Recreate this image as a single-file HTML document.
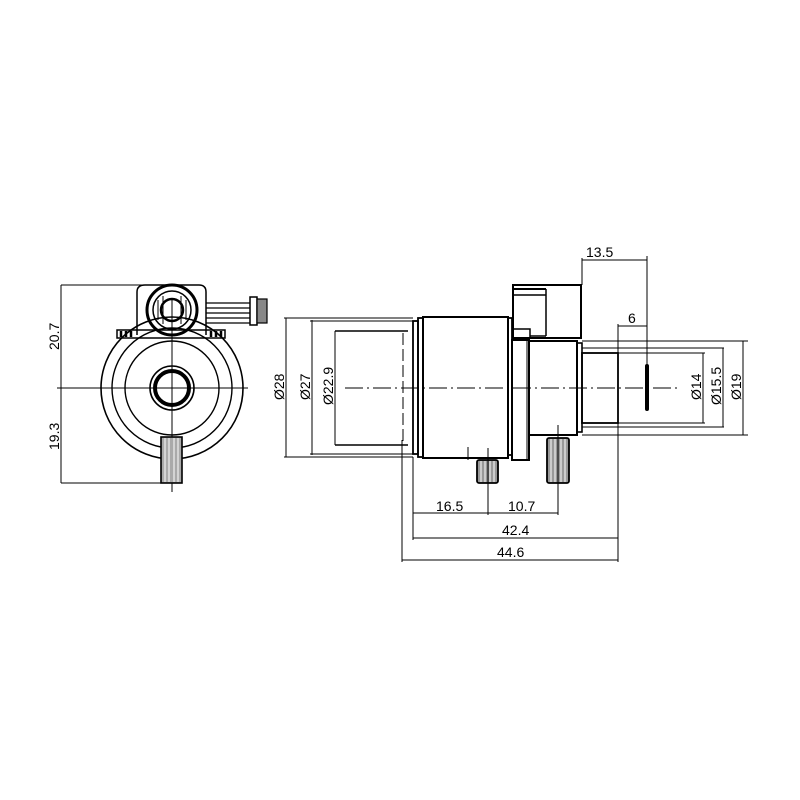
<!DOCTYPE html>
<html><head><meta charset="utf-8"><style>html,body{margin:0;padding:0;background:#fff}svg{display:block}</style></head>
<body>
<svg width="800" height="800" viewBox="0 0 800 800" xmlns="http://www.w3.org/2000/svg" font-family="Liberation Sans Narrow, Liberation Sans, sans-serif" font-size="13">
<g fill="none" stroke="#000" stroke-width="1">
<!-- LEFT VIEW -->
<line x1="61" y1="285" x2="61" y2="483"/>
<line x1="61" y1="285" x2="145" y2="285"/>
<line x1="61" y1="483" x2="165" y2="483"/>
<line x1="57" y1="388" x2="248" y2="388"/>
<line x1="172" y1="300" x2="172" y2="492"/>
<circle cx="172" cy="388" r="71" stroke-width="1.6"/>
<circle cx="172" cy="388" r="60" stroke-width="1.4"/>
<circle cx="172" cy="388" r="47" stroke-width="1.4"/>
<circle cx="172" cy="388" r="22" stroke-width="1.6"/>
<circle cx="172" cy="388" r="17" stroke-width="4"/>
<rect x="117" y="330" width="108" height="8" stroke-width="1.5"/>
<g stroke-width="2.5"><line x1="121" y1="331" x2="121" y2="337"/><line x1="126" y1="331" x2="126" y2="337"/><line x1="131" y1="331" x2="131" y2="337"/><line x1="211" y1="331" x2="211" y2="337"/><line x1="216" y1="331" x2="216" y2="337"/><line x1="221" y1="331" x2="221" y2="337"/></g>
<path d="M137 335 V292 Q137 285 145 285 H199 Q206 285 206 292 V335" stroke-width="1.5"/>
<circle cx="172" cy="310" r="25" stroke-width="3"/>
<circle cx="172" cy="310" r="19" stroke-width="1.5"/>
<circle cx="172" cy="310" r="11" stroke-width="2.5"/>
<path d="M158 300 v20 M186 300 v20 M163 296 v28 M181 296 v28" stroke-width="1"/>
<g stroke-width="1.2"><line x1="206" y1="303" x2="250" y2="303"/><line x1="206" y1="308" x2="250" y2="308"/><line x1="206" y1="313" x2="250" y2="313"/><line x1="206" y1="318" x2="250" y2="318"/><line x1="206" y1="323" x2="250" y2="323"/></g>
<rect x="250" y="297" width="7" height="28" stroke-width="1.5"/>
<rect x="257" y="299" width="10" height="24" fill="#888" stroke-width="1.2"/>
<rect x="161" y="437" width="21" height="46" fill="#aaa" stroke-width="1.6"/>
<path d="M165 438 v44 M169 438 v44 M174 438 v44 M178 438 v44" stroke="#fff" stroke-width="1"/>

<!-- RIGHT VIEW -->
<!-- diameter dims left -->
<line x1="286" y1="318" x2="286" y2="457"/>
<line x1="312" y1="320" x2="312" y2="455"/>
<line x1="335" y1="331" x2="335" y2="445"/>
<line x1="284" y1="318" x2="413" y2="318"/>
<line x1="284" y1="457" x2="413" y2="457"/>
<line x1="310" y1="321" x2="413" y2="321"/>
<line x1="310" y1="454" x2="413" y2="454"/>
<line x1="335" y1="331" x2="408" y2="331" stroke-width="1.5"/>
<line x1="335" y1="445" x2="408" y2="445" stroke-width="1.5"/>
<line x1="403" y1="333" x2="403" y2="443" stroke-dasharray="12 4"/>
<!-- flange rings -->
<rect x="413" y="321" width="5" height="133" stroke-width="1.8"/>
<rect x="418" y="318" width="5" height="139" stroke-width="1.8"/>
<!-- main body -->
<rect x="423" y="317" width="85" height="141" stroke-width="2"/>
<rect x="508" y="318" width="4" height="137" stroke-width="1.8"/>
<rect x="512" y="340" width="17" height="120" stroke-width="2"/>
<line x1="527" y1="340" x2="527" y2="460" stroke-width="1"/>
<!-- connector box -->
<rect x="513" y="285" width="68" height="53" stroke-width="2"/>
<line x1="513" y1="289" x2="546" y2="289" stroke-width="2"/>
<line x1="513" y1="295" x2="546" y2="295" stroke-width="1.5"/>
<line x1="546" y1="289" x2="546" y2="336" stroke-width="1.5"/>
<line x1="530" y1="336" x2="546" y2="336" stroke-width="1.5"/>
<rect x="513" y="329" width="17" height="9" stroke-width="1.5"/>
<!-- next section -->
<rect x="529" y="341" width="48" height="94" stroke-width="2"/>
<rect x="577" y="343" width="5" height="89" stroke-width="1.6"/>
<!-- shaft -->
<rect x="582" y="353" width="36" height="70" stroke-width="1.8"/>
<line x1="582" y1="341" x2="748" y2="341"/>
<line x1="582" y1="435" x2="748" y2="435"/>
<line x1="582" y1="348" x2="724" y2="348"/>
<line x1="582" y1="427" x2="724" y2="427"/>
<line x1="618" y1="353" x2="705" y2="353"/>
<line x1="618" y1="423" x2="705" y2="423"/>
<line x1="703" y1="353" x2="703" y2="423"/>
<line x1="723" y1="348" x2="723" y2="427"/>
<line x1="743" y1="341" x2="743" y2="435"/>
<line x1="647" y1="366" x2="647" y2="409" stroke-width="4" stroke-linecap="round"/>
<!-- centerline -->
<line x1="345" y1="388" x2="680" y2="388" stroke-dasharray="18 4 2 4"/>
<!-- screws -->
<rect x="477" y="460" width="21" height="23" fill="#999" stroke-width="1.8" rx="2"/>
<rect x="547" y="438" width="22" height="45" fill="#999" stroke-width="1.8" rx="2"/>
<path d="M481 461v21 M485 461v21 M490 461v21 M494 461v21 M551 439v43 M555 439v43 M561 439v43 M565 439v43" stroke="#fff" stroke-width="1"/>
<line x1="468" y1="447" x2="468" y2="460"/>
<line x1="488" y1="448" x2="488" y2="515"/>
<line x1="558" y1="425" x2="558" y2="515"/>
<!-- 13.5 / 6 -->
<line x1="582" y1="258" x2="582" y2="285"/>
<line x1="647" y1="256" x2="647" y2="366"/>
<line x1="582" y1="260" x2="647" y2="260"/>
<line x1="618" y1="324" x2="618" y2="562"/>
<line x1="618" y1="326" x2="647" y2="326"/>
<!-- bottom dims -->
<line x1="413" y1="457" x2="413" y2="540"/>
<line x1="402" y1="440" x2="402" y2="562"/>
<line x1="413" y1="513" x2="558" y2="513"/>
<line x1="413" y1="538" x2="618" y2="538"/>
<line x1="402" y1="560" x2="618" y2="560"/>
</g>
<g fill="#000">
<text x="586" y="257" font-size="14">13.5</text>
<text x="628" y="323" font-size="14">6</text>
<text x="436" y="511" font-size="14">16.5</text>
<text x="508" y="511" font-size="14">10.7</text>
<text x="502" y="535" font-size="14">42.4</text>
<text x="497" y="557" font-size="14">44.6</text>
<g font-size="14">
<text transform="translate(284,400) rotate(-90)">Ø28</text>
<text transform="translate(310,400) rotate(-90)">Ø27</text>
<text transform="translate(333,405) rotate(-90)">Ø22.9</text>
<text transform="translate(701,400) rotate(-90)">Ø14</text>
<text transform="translate(721,405) rotate(-90)">Ø15.5</text>
<text transform="translate(741,400) rotate(-90)">Ø19</text>
<text transform="translate(59,350) rotate(-90)">20.7</text>
<text transform="translate(59,450) rotate(-90)">19.3</text>
</g>
</g>
</svg>
</body></html>
